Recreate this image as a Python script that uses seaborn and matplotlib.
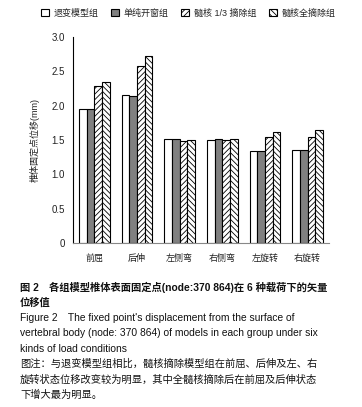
import matplotlib
matplotlib.use("Agg")
import matplotlib.pyplot as plt
import matplotlib.patches as mpatches
import pandas as pd
import seaborn as sns

# Values.
conditions = ["前屈", "后伸", "左侧弯", "右侧弯", "左旋转", "右旋转"]
groups = ["退变模型组", "单纯开窗组", "髓核 1/3 摘除组", "髓核全摘除组"]
degenerate = [1.95, 2.15, 1.51, 1.50, 1.34, 1.35]
fenestration = [1.95, 2.14, 1.51, 1.51, 1.34, 1.35]
third_removed = [2.28, 2.58, 1.49, 1.50, 1.54, 1.54]
full_removed = [2.35, 2.72, 1.50, 1.51, 1.61, 1.64]
y_ticks = [0, 0.5, 1.0, 1.5, 2.0, 2.5, 3.0]
y_tick_labels = ["0", "0.5", "1.0", "1.5", "2.0", "2.5", "3.0"]

df = pd.DataFrame(
    {
        "condition": conditions * 4,
        "group": [g for g in groups for _ in conditions],
        "value": degenerate + fenestration + third_removed + full_removed,
    }
)

sns.set_style("white")
plt.rcParams["font.family"] = ["Liberation Sans", "Noto Sans CJK SC"]
plt.rcParams["hatch.linewidth"] = 0.6

fig = plt.figure(figsize=(3.62, 4.07), dpi=100)
ax = fig.add_axes([0.2017, 0.403, 0.707, 0.506])

sns.barplot(
    data=df, x="condition", y="value", hue="group",
    order=conditions, hue_order=groups,
    width=0.72, gap=0, errorbar=None, legend=False, ax=ax,
)

faces = ["white", "#808080", "white", "white"]
hatches = [None, None, "//////", "\\\\\\\\\\\\"]
for cont, fc, h in zip(ax.containers, faces, hatches):
    for bar in cont:
        bar.set_facecolor(fc)
        bar.set_edgecolor("black")
        bar.set_linewidth(0.8)
        if h:
            bar.set_hatch(h)

ax.set_ylim(0, 3.0)
ax.set_xlim(-0.5, 5.5)
ax.set_yticks(y_ticks)
ax.set_yticklabels(y_tick_labels, fontsize=7, color="#222222")
ax.set_xticks([i - 0.5 for i in range(7)], minor=False)
ax.set_xticklabels([])
ax.set_xticks(range(6), minor=True)
ax.set_xticklabels(conditions, minor=True, fontsize=6.5, color="#222222")
ax.tick_params(axis="x", which="major", direction="out", length=3, width=0.6, color="#555555")
ax.tick_params(axis="x", which="minor", length=0, pad=8)
ax.tick_params(axis="y", direction="out", length=3, width=0.6, color="#555555", pad=3)
for side in ["top", "right"]:
    ax.spines[side].set_visible(False)
ax.spines["left"].set_color("black")
ax.spines["left"].set_linewidth(0.8)
ax.spines["bottom"].set_color("#888888")
ax.spines["bottom"].set_linewidth(0.8)
ax.set_xlabel("")
ax.set_ylabel("椎体固定点位移(mm)", fontsize=6.5, color="#222222", labelpad=8)

handles = [
    mpatches.Patch(facecolor=fc, edgecolor="black", hatch=h, linewidth=0.8)
    for fc, h in zip(faces, hatches)
]
fig.legend(
    handles, groups, loc="center", bbox_to_anchor=(0.52, 0.968), ncol=4,
    frameon=False, fontsize=6.5, handlelength=0.9, handleheight=0.9,
    handletextpad=0.5, columnspacing=1.4,
)

caption_lines = [
    ("图 2\u3000各组模型椎体表面固定点(node:370 864)在 6 种载荷下的矢量", "bold"),
    ("位移值", "bold"),
    ("Figure 2\u3000The fixed point's displacement from the surface of", "normal"),
    ("vertebral body (node: 370 864) of models in each group under six", "normal"),
    ("kinds of load conditions", "normal"),
    ("图注：与退变模型组相比，髓核摘除模型组在前屈、后伸及左、右", "normal"),
    ("旋转状态位移改变较为明显，其中全髓核摘除后在前屈及后伸状态", "normal"),
    ("下增大最为明显。", "normal"),
]
y0 = 287
for i, (line, weight) in enumerate(caption_lines):
    y = y0 + i * 15.4
    fig.text(20 / 362, 1 - y / 407, line, fontsize=7.4, weight=weight,
             va="center", ha="left", color="#111111")

fig.savefig("out.png", dpi=100)
